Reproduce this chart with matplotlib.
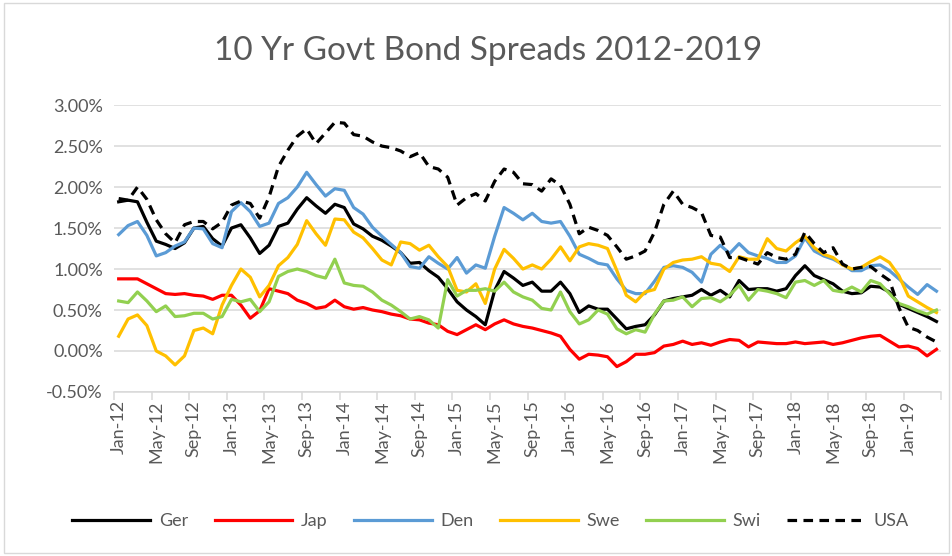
import pandas as pd
import matplotlib.pyplot as plt
from matplotlib.patches import Rectangle

# monthly spreads (%), Jan-12 .. Apr-19
months = pd.date_range('2012-01-01', periods=88, freq='MS').strftime('%b-%y').tolist()

ger = [1.82, 1.84, 1.82, 1.57, 1.34, 1.30, 1.25, 1.32, 1.50, 1.52, 1.37, 1.28, 1.50, 1.54,
       1.38, 1.19, 1.29, 1.52, 1.56, 1.73, 1.87, 1.77, 1.68, 1.79, 1.75, 1.55, 1.49, 1.40,
       1.35, 1.28, 1.20, 1.07, 1.08, 0.98, 0.90, 0.76, 0.60, 0.50, 0.42, 0.32, 0.74, 0.97,
       0.89, 0.80, 0.84, 0.73, 0.73, 0.84, 0.70, 0.47, 0.55, 0.51, 0.51, 0.39, 0.27, 0.30,
       0.32, 0.44, 0.61, 0.64, 0.66, 0.68, 0.75, 0.68, 0.74, 0.66, 0.86, 0.75, 0.76, 0.76,
       0.73, 0.76, 0.92, 1.04, 0.92, 0.87, 0.82, 0.73, 0.70, 0.71, 0.79, 0.78, 0.72, 0.57,
       0.52, 0.47, 0.42, 0.36]

jap = [0.88, 0.88, 0.88, 0.82, 0.76, 0.70, 0.69, 0.70, 0.68, 0.67, 0.63, 0.68, 0.68, 0.56,
       0.40, 0.49, 0.76, 0.73, 0.70, 0.62, 0.58, 0.52, 0.54, 0.62, 0.54, 0.51, 0.53, 0.50,
       0.48, 0.45, 0.43, 0.39, 0.38, 0.34, 0.32, 0.24, 0.20, 0.26, 0.32, 0.26, 0.33, 0.38,
       0.33, 0.30, 0.28, 0.25, 0.22, 0.18, 0.02, -0.10, -0.04, -0.05, -0.07, -0.19, -0.13, -0.04,
       -0.04, -0.02, 0.06, 0.08, 0.12, 0.08, 0.10, 0.07, 0.11, 0.14, 0.13, 0.05, 0.11, 0.10,
       0.09, 0.09, 0.11, 0.09, 0.10, 0.11, 0.08, 0.10, 0.13, 0.16, 0.18, 0.19, 0.12, 0.05,
       0.06, 0.03, -0.06, 0.02]

den = [1.42, 1.53, 1.58, 1.41, 1.16, 1.20, 1.28, 1.33, 1.50, 1.49, 1.31, 1.26, 1.70, 1.81,
       1.70, 1.52, 1.56, 1.80, 1.87, 2.00, 2.18, 2.03, 1.89, 1.98, 1.96, 1.75, 1.67, 1.51,
       1.40, 1.30, 1.20, 1.03, 1.01, 1.15, 1.07, 1.00, 1.14, 0.95, 1.05, 1.01, 1.40, 1.75,
       1.68, 1.60, 1.68, 1.58, 1.56, 1.58, 1.40, 1.18, 1.13, 1.07, 1.05, 0.88, 0.74, 0.70,
       0.70, 0.85, 1.02, 1.04, 1.02, 0.96, 0.84, 1.18, 1.29, 1.19, 1.31, 1.20, 1.16, 1.13,
       1.08, 1.08, 1.16, 1.38, 1.22, 1.16, 1.12, 1.06, 0.98, 0.98, 1.04, 1.05, 0.98, 0.88,
       0.78, 0.69, 0.81, 0.73]

swe = [0.18, 0.39, 0.44, 0.31, 0.00, -0.06, -0.17, -0.06, 0.25, 0.28, 0.21, 0.56, 0.80, 1.00,
       0.90, 0.66, 0.80, 1.04, 1.14, 1.30, 1.59, 1.43, 1.29, 1.61, 1.60, 1.45, 1.38, 1.25,
       1.11, 1.05, 1.33, 1.31, 1.23, 1.29, 1.15, 1.03, 0.74, 0.72, 0.82, 0.58, 1.00, 1.24,
       1.13, 1.00, 1.05, 1.00, 1.12, 1.27, 1.10, 1.27, 1.31, 1.29, 1.25, 0.98, 0.68, 0.60,
       0.72, 0.75, 1.00, 1.08, 1.11, 1.12, 1.15, 1.07, 1.05, 0.97, 1.15, 1.12, 1.12, 1.37,
       1.25, 1.22, 1.32, 1.40, 1.26, 1.18, 1.14, 1.05, 1.00, 1.02, 1.09, 1.15, 1.08, 0.92,
       0.67, 0.60, 0.53, 0.47]

swi = [0.61, 0.59, 0.72, 0.61, 0.48, 0.55, 0.42, 0.43, 0.46, 0.46, 0.39, 0.42, 0.63, 0.60,
       0.63, 0.48, 0.60, 0.91, 0.97, 1.00, 0.97, 0.92, 0.89, 1.12, 0.83, 0.80, 0.79, 0.72,
       0.62, 0.56, 0.48, 0.39, 0.42, 0.38, 0.28, 0.87, 0.67, 0.74, 0.74, 0.76, 0.73, 0.84,
       0.72, 0.66, 0.62, 0.52, 0.50, 0.72, 0.48, 0.33, 0.38, 0.50, 0.45, 0.27, 0.21, 0.26,
       0.23, 0.45, 0.61, 0.62, 0.66, 0.54, 0.64, 0.65, 0.60, 0.68, 0.80, 0.62, 0.75, 0.73,
       0.70, 0.65, 0.84, 0.86, 0.80, 0.86, 0.74, 0.72, 0.78, 0.72, 0.86, 0.82, 0.70, 0.58,
       0.54, 0.49, 0.45, 0.50]

usa = [1.86, 1.84, 2.00, 1.85, 1.60, 1.43, 1.32, 1.54, 1.58, 1.58, 1.49, 1.57, 1.78, 1.83,
       1.80, 1.62, 1.88, 2.25, 2.45, 2.62, 2.71, 2.53, 2.66, 2.79, 2.78, 2.64, 2.62, 2.55,
       2.50, 2.48, 2.44, 2.37, 2.42, 2.25, 2.22, 2.12, 1.78, 1.87, 1.92, 1.83, 2.07, 2.22,
       2.18, 2.04, 2.03, 1.95, 2.10, 2.02, 1.79, 1.43, 1.51, 1.47, 1.41, 1.27, 1.12, 1.16,
       1.22, 1.45, 1.79, 1.95, 1.79, 1.75, 1.69, 1.41, 1.39, 1.14, 1.14, 1.10, 1.06, 1.20,
       1.14, 1.12, 1.18, 1.45, 1.31, 1.20, 1.26, 1.06, 1.00, 1.02, 1.03, 0.94, 0.86, 0.53,
       0.29, 0.25, 0.17, 0.11]

series_names = ['Ger', 'Jap', 'Den', 'Swe', 'Swi', 'USA']
y_ticks = [-0.5, 0.0, 0.5, 1.0, 1.5, 2.0, 2.5, 3.0]

plt.rcParams['font.family'] = ['Lato', 'DejaVu Sans']
grey = '#595959'

fig = plt.figure(figsize=(9.53, 5.56), dpi=100)
ax = fig.add_axes([0.1196, 0.295, 0.868, 0.516])

x = list(range(len(months)))
ax.plot(x, ger, color='black', lw=2.3, label=series_names[0])
ax.plot(x, jap, color='#FF0000', lw=2.3, label=series_names[1])
ax.plot(x, den, color='#5B9BD5', lw=2.3, label=series_names[2])
ax.plot(x, swe, color='#FFC000', lw=2.3, label=series_names[3])
ax.plot(x, swi, color='#92D050', lw=2.3, label=series_names[4])
ax.plot(x, usa, color='black', lw=2.3, dashes=(3, 2), label=series_names[5])

ax.set_xlim(-0.5, len(months) - 0.5)
ax.set_ylim(-0.5, 3.0)
ax.set_yticks(y_ticks)
ax.set_yticklabels([f'{v:.2f}%' for v in y_ticks])
ax.yaxis.grid(True, color='#D9D9D9', lw=1.1)
ax.set_axisbelow(True)

# labels every 4 months at category centres, tick marks at boundaries
ax.set_xticks(x[::4])
ax.set_xticklabels(months[::4], rotation=90)
ax.set_xticks([i - 0.5 for i in range(0, len(months) + 1, 4)], minor=True)
ax.tick_params(axis='x', which='major', length=0, pad=6)
ax.tick_params(axis='x', which='minor', length=6, color='#D9D9D9', width=1.1)
ax.tick_params(axis='y', length=0, pad=8)
ax.tick_params(labelsize=13, labelcolor=grey)

for s in ['top', 'right', 'left']:
    ax.spines[s].set_visible(False)
ax.spines['bottom'].set_color('#D9D9D9')
ax.spines['bottom'].set_linewidth(1.1)

fig.suptitle('10 Yr Govt Bond Spreads 2012-2019', x=0.512, y=0.935, fontsize=24, color=grey)

fig.legend(loc='center', bbox_to_anchor=(0.515, 0.063), ncol=6, frameon=False,
           fontsize=13, handlelength=4.3, columnspacing=1.45, handletextpad=0.5,
           labelcolor=grey)

fig.patches.append(Rectangle((0.004, 0.006), 0.992, 0.988, transform=fig.transFigure,
                             fill=False, edgecolor='#D9D9D9', lw=1))

fig.savefig('out.png', dpi=100)
